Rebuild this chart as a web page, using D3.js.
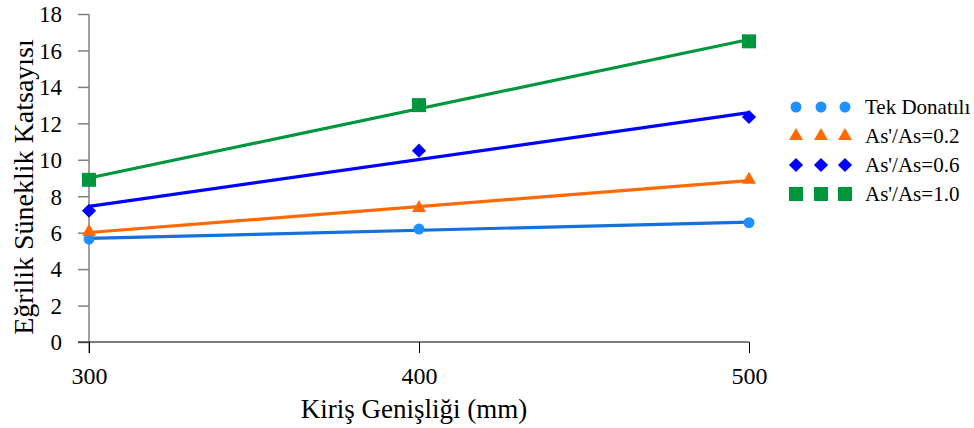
<!DOCTYPE html>
<html><head><meta charset="utf-8">
<script src="https://cdn.jsdelivr.net/npm/d3@7"></script>
<style>body{margin:0;background:#fff}svg{display:block}</style>
</head><body><svg id="c" width="974" height="428"></svg>
<script>
const widths = [300, 400, 500];
const seriesNames = ["Tek Donatılı", "As'/As=0.2", "As'/As=0.6", "As'/As=1.0"];
const tekDonatili = [5.65, 6.2, 6.55];
const as02 = [6.05, 7.35, 8.9];
const as06 = [7.2, 10.5, 12.35];
const as10 = [8.9, 13.0, 16.5];
const yTicks = [0, 2, 4, 6, 8, 10, 12, 14, 16, 18];
const xTicks = [300, 400, 500];
const FONT = "'Liberation Serif', 'Times New Roman', serif";

const styles = [
  {sym: d3.symbolCircle, size: 95, rot: 0, fill: "#1E90FF", line: "#1470DA"},
  {sym: d3.symbolTriangle, size: 85, rot: 0, fill: "#FF6A00", line: "#FF6A00"},
  {sym: d3.symbolSquare, size: 100, rot: 45, fill: "#0000FF", line: "#0000FF"},
  {sym: d3.symbolSquare, size: 196, rot: 0, fill: "#00963C", line: "#00963C"}
];
const series = [tekDonatili, as02, as06, as10].map((v, i) => ({name: seriesNames[i], values: v, st: styles[i]}));

const svg = d3.select("#c");
const x = d3.scaleLinear().domain([300, 500]).range([89, 749]);
const y = d3.scaleLinear().domain([0, 18]).range([342, 14]);

// y axis
const ya = svg.append("g").attr("transform", "translate(89,0)")
  .call(d3.axisLeft(y).tickValues(yTicks).tickSize(11).tickPadding(16).tickSizeOuter(0));
ya.attr("font-family", null);
ya.select(".domain").remove();
ya.selectAll(".tick line").attr("stroke", "#808080").attr("stroke-width", 1.5);
ya.selectAll(".tick text").style("font-family", FONT).style("font-size", "23px").attr("fill", "#000").attr("dy", "0.34em");
svg.append("line").attr("x1", 89).attr("x2", 89).attr("y1", y(18)).attr("y2", 353).attr("stroke", "#808080").attr("stroke-width", 1.5);

// x axis
const xa = svg.append("g").attr("transform", "translate(0,342)")
  .call(d3.axisBottom(x).tickValues(xTicks).tickSize(11).tickPadding(14).tickSizeOuter(0).tickFormat(d3.format("d")));
xa.attr("font-family", null);
xa.select(".domain").remove();
xa.selectAll(".tick line").attr("stroke", "#000");
xa.selectAll(".tick text").style("font-family", FONT).style("font-size", "24px").attr("fill", "#000");
svg.append("line").attr("x1", 78).attr("x2", x(500)).attr("y1", 342).attr("y2", 342).attr("stroke", "#000").attr("stroke-width", 1.2);

// titles
svg.append("text").attr("x", (x(300) + x(500)) / 2 - 5).attr("y", 418).attr("text-anchor", "middle")
  .style("font-family", FONT).style("font-size", "27px").text("Kiriş Genişliği (mm)");
svg.append("text").attr("transform", "translate(33,187) rotate(-90)").attr("text-anchor", "middle")
  .style("font-family", FONT).style("font-size", "28px").text("Eğrilik Süneklik Katsayısı");

// linear trendlines (least squares from data)
function fit(xs, ys) {
  const mx = d3.mean(xs), my = d3.mean(ys);
  const b = d3.sum(xs, (xv, i) => (xv - mx) * (ys[i] - my)) / d3.sum(xs, xv => (xv - mx) ** 2);
  return xv => my + b * (xv - mx);
}
series.forEach(s => {
  const f = fit(widths, s.values);
  svg.append("line").attr("x1", x(300)).attr("y1", y(f(300))).attr("x2", x(500)).attr("y2", y(f(500)))
    .attr("stroke", s.st.line).attr("stroke-width", 3.2);
});
series.forEach(s => {
  svg.append("g").selectAll("path").data(s.values).join("path")
    .attr("transform", (d, i) => `translate(${x(widths[i])},${y(d)}) rotate(${s.st.rot})`)
    .attr("d", d3.symbol().type(s.st.sym).size(s.st.size)).attr("fill", s.st.fill);
});

// legend
const lg = svg.append("g");
series.forEach((s, i) => {
  const cy = 107 + i * 29;
  [796, 821, 845].forEach(mx => {
    lg.append("path").attr("transform", `translate(${mx},${cy}) rotate(${s.st.rot})`)
      .attr("d", d3.symbol().type(s.st.sym).size(s.st.size)).attr("fill", s.st.fill);
  });
  lg.append("text").attr("x", 865).attr("y", cy).attr("dy", "0.35em")
    .style("font-family", FONT).style("font-size", "21px").text(s.name);
});
</script></body></html>
